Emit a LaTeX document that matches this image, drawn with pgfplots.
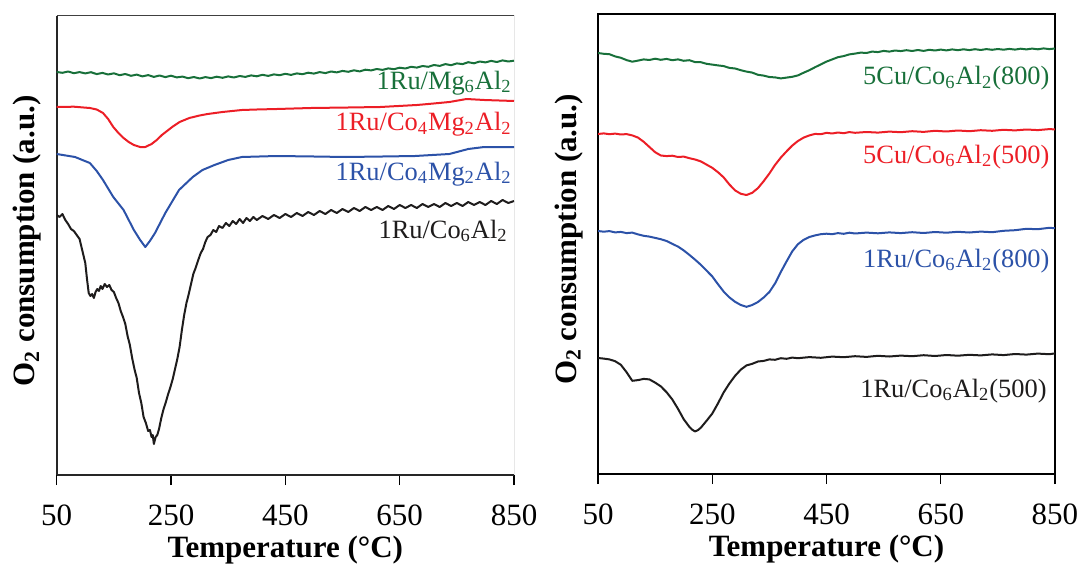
\documentclass[border=0pt]{standalone}
\usepackage{fontspec}
\setmainfont{Liberation Serif}
\usepackage{pgfplots}
\pgfplotsset{compat=1.18}
\definecolor{cgreen}{RGB}{24,112,58}
\definecolor{cred}{RGB}{236,30,38}
\definecolor{cblue}{RGB}{44,82,168}
\definecolor{cblack}{RGB}{30,28,28}
\newcommand{\tf}{\fontsize{15.5}{18}\selectfont}
\newcommand{\lf}{\fontsize{13.2}{15}\selectfont}
\pgfplotsset{
  common/.style={
    scale only axis,
    anchor=south west,
    xmin=50, xmax=850, ymin=0,
    xtick={50,250,450,650,850},
    ytick=\empty,
    tick align=outside,
    major tick length=5pt,
    xtick pos=left,
    tick style={black, line width=0.6pt},
    /pgf/number format/assume math mode=true,
    xticklabel style={font=\tf, anchor=base, yshift=-20pt},
    xlabel={\textbf{Temperature (°C)}},
    ylabel={\textbf{O\textsubscript{2} consumption (a.u.)}},
    xlabel style={font=\tf, at={(axis description cs:0.5,0)}, anchor=base, yshift=-41pt},
    ylabel style={font=\tf, at={(axis description cs:-0.048,0.51)}, anchor=base},
    every axis plot/.append style={line width=1pt, line join=round},
  }
}
\begin{document}
\begin{tikzpicture}
\path[use as bounding box] (0,0) rectangle (540.5pt,281.5pt);
% ---------------- left panel ----------------
\begin{axis}[common, at={(28.35pt,44pt)}, width=228.65pt, height=229.5pt, ymax=459,
  axis lines*=left, axis line style={line width=1pt, black!85}]
\addplot[cgreen] coordinates {
(50,403.0)(60,402.2)(70,403.5)(80,401.8)(90,402.9)(100,401.6)(110,402.8)(120,400.9)(130,402.1)(140,400.5)
(150,401.7)(160,399.8)(170,401.0)(180,399.2)(190,400.4)(200,398.6)(210,399.9)(220,398.1)(230,399.5)(240,397.9)
(250,399.3)(260,397.6)(270,398.4)(280,396.8)(290,398.0)(300,396.5)(310,397.9)(320,396.9)(330,398.3)(340,397.2)
(350,398.6)(360,397.5)(370,399.0)(380,398.1)(390,399.6)(400,398.7)(410,400.2)(420,399.1)(430,400.6)(440,399.8)
(450,401.2)(460,400.1)(470,401.6)(480,400.8)(490,402.3)(500,401.4)(510,402.9)(520,401.9)(530,403.5)(540,402.6)
(550,404.1)(560,403.2)(570,404.7)(580,403.6)(590,405.3)(600,404.6)(610,406.0)(620,405.1)(630,406.6)(640,405.8)
(650,407.3)(660,406.5)(670,408.2)(680,407.4)(690,409.0)(700,408.2)(710,410.0)(720,409.1)(730,410.9)(740,409.8)
(750,411.6)(760,410.9)(770,412.8)(780,411.7)(790,413.5)(800,412.6)(810,414.1)(820,413.0)(830,414.6)(840,413.5)
(850,414.3)};
\addplot[cred] coordinates {
(50,368)(80,368.3)(108,367)(120,365.5)(131,362)(140,356)(149,348)(158,342)(167,337)(176,333)(185,330)(196,328)
(205,328)(216,331)(225,335)(234,340)(243,344)(252,348)(265,353)(282,357)(300,359.5)(314,361)(340,363)(374,365)
(400,365.5)(435,366)(495,367)(560,367.5)(616,368)(680,370)(700,371)(737,373)(767,376)(798,375)(850,374)};
\addplot[cblue] coordinates {
(50,321)(82,318)(108,312)(120,304)(131,295)(149,278)(167,265)(185,245)(196,235)(205,228)(213,234)(222,242)
(240,262)(264,285)(288,298)(305,305)(326,310)(350,315)(374,318)(435,319)(500,318.5)(556,318)(620,318.5)(677,319)
(737,321)(770,326)(798,328)(850,328)};
\addplot[cblack] coordinates {
(50,260)(55,258)(60,261)(65,255)(70,251)(75,246)(80,244)(85,240)(90,236)(95,224)(100,212)(103,196)(106,182)
(109,179)(112,181)(115,177)(118,183)(121,186)(124,184)(127,189)(130,186)(134,191)(138,188)(142,190)(146,185)
(150,183)(154,177)(158,172)(162,164)(166,158)(170,151)(174,139)(178,130)(182,117)(186,106)(190,97)(194,82)
(198,72)(202,58)(206,52)(210,44)(213,45)(216,38)(218,40)(220,31)(223,38)(226,40)(229,46)(233,57)(237,66)
(241,73)(245,81)(249,88)(253,96)(257,106)(261,116)(265,128)(269,145)(273,160)(277,172)(281,181)(285,191)
(289,201)(293,207)(297,214)(302,222)(306,226)(310,233)(314,238)(319,240)(324,245)(329,243)(334,249)(340,247)
(346,252)(352,249)(358,254)(364,251)(370,256)(376,252)(382,257)(388,254)(394,258)(400,255)(410,259)(420,256)
(430,260)(440,257)(450,261)(460,258)(470,262)(480,259)(490,263)(500,260)(510,264)(520,261)(530,265)(540,262)
(550,266)(560,263)(570,267)(580,264)(590,268)(600,265)(610,268)(620,265)(630,269)(640,266)(650,270)(660,267)
(670,270)(680,267)(690,271)(700,268)(710,271)(720,268)(730,272)(740,269)(750,272)(760,269)(770,273)(780,270)
(790,273)(800,270)(810,274)(820,271)(830,275)(840,272)(850,274)};
\draw[line width=0.5pt, black!75] (rel axis cs:0,1) -- (rel axis cs:1,1) -- (rel axis cs:1,0);
\node[anchor=base east, text=cgreen, font=\lf, inner sep=0pt] at (axis cs:846.5,386) {1Ru/Mg\textsubscript{6}Al\textsubscript{2}};
\node[anchor=base east, text=cred, font=\lf, inner sep=0pt] at (axis cs:846.5,344) {1Ru/Co\textsubscript{4}Mg\textsubscript{2}Al\textsubscript{2}};
\node[anchor=base east, text=cblue, font=\lf, inner sep=0pt] at (axis cs:846.5,295) {1Ru/Co\textsubscript{4}Mg\textsubscript{2}Al\textsubscript{2}};
\node[anchor=base east, text=cblack, font=\lf, inner sep=0pt] at (axis cs:839.5,237) {1Ru/Co\textsubscript{6}Al\textsubscript{2}};
\end{axis}
% ---------------- right panel ----------------
\begin{axis}[common, at={(299pt,44.5pt)}, width=228.5pt, height=230pt, ymax=460,
  axis line style={line width=1.15pt, black}]
\addplot[cgreen] coordinates {
(50,421.0)(60,420.2)(70,419.8)(80,417.6)(90,416.2)(100,413.9)(110,412.3)(120,413.4)(130,414.6)(140,414.0)
(150,415.3)(160,414.2)(170,415.1)(180,413.8)(190,414.6)(200,413.2)(210,413.8)(220,411.9)(230,411.8)(240,410.2)
(250,409.4)(260,408.6)(270,407.9)(280,406.1)(290,405.5)(300,403.8)(310,402.4)(320,401.4)(330,399.2)(340,398.4)
(350,397.0)(360,396.6)(370,395.6)(380,396.4)(390,397.2)(400,398.6)(410,401.3)(420,403.8)(430,406.8)(440,409.6)
(450,412.4)(460,414.6)(470,416.8)(480,417.9)(490,419.6)(500,420.4)(510,421.4)(520,421.0)(530,422.4)(540,421.9)
(550,423.1)(560,422.4)(570,423.5)(580,422.9)(590,423.8)(600,423.0)(610,424.0)(620,423.1)(630,424.2)(640,423.5)
(650,424.4)(660,423.6)(670,424.6)(680,423.8)(690,424.7)(700,423.9)(710,424.8)(720,424.0)(730,424.9)(740,424.2)
(750,425.0)(760,424.3)(770,425.1)(780,424.4)(790,425.3)(800,424.6)(810,425.4)(820,424.7)(830,425.6)(840,424.9)
(850,425.5)};
\addplot[cred] coordinates {
(50,340.0)(60,340.6)(70,339.8)(80,340.4)(90,339.5)(100,339.9)(110,338.6)(120,336.4)(130,332.2)(140,327.0)
(150,321.8)(160,318.5)(170,317.9)(180,318.3)(190,317.0)(200,317.4)(210,315.8)(220,314.5)(230,312.6)(240,309.4)
(250,306.2)(260,301.8)(270,296.6)(280,289.5)(290,283.6)(300,280.2)(310,279.0)(320,281.2)(330,285.9)(340,292.8)
(350,300.5)(360,309.1)(370,316.4)(380,322.6)(390,328.4)(400,333.0)(410,336.4)(420,338.6)(430,340.1)(440,339.8)
(450,341.2)(460,340.5)(470,341.5)(480,340.8)(490,341.9)(500,341.2)(520,342.0)(540,341.4)(560,342.4)(580,341.8)
(600,342.8)(620,342.1)(640,343.2)(660,342.5)(680,343.5)(700,342.8)(720,343.8)(740,343.2)(760,344.2)(780,343.6)
(800,344.5)(820,343.9)(840,344.9)(850,344.6)};
\addplot[cblue] coordinates {
(50,243.0)(60,242.3)(70,242.9)(80,241.6)(90,242.1)(100,240.9)(110,241.4)(120,239.6)(130,238.2)(140,237.4)
(150,236.1)(160,234.8)(170,233.0)(180,230.2)(190,227.4)(200,223.6)(210,219.1)(220,214.3)(230,209.2)(240,203.4)
(250,197.6)(260,189.8)(270,182.4)(280,176.6)(290,172.2)(300,169.0)(310,167.2)(320,169.0)(330,172.0)(340,176.5)
(350,182.0)(360,190.6)(370,202.0)(380,212.5)(390,222.6)(400,229.8)(410,234.2)(420,237.0)(430,238.6)(440,239.8)
(450,240.3)(460,239.8)(470,240.9)(480,240.2)(490,241.3)(500,240.5)(520,241.4)(540,240.7)(560,241.6)(580,240.9)
(600,241.8)(620,241.0)(640,242.0)(660,241.3)(680,242.2)(700,241.5)(720,242.4)(740,241.8)(760,243.2)(780,243.8)
(800,245.2)(820,244.8)(840,246.2)(850,245.8)};
\addplot[cblack] coordinates {
(50,116.0)(60,115.4)(70,114.6)(80,112.8)(90,109.2)(100,101.8)(110,93.2)(120,93.9)(130,95.1)(140,94.6)
(150,91.4)(160,87.6)(170,81.8)(180,74.6)(190,65.2)(200,54.8)(210,47.1)(215,44.2)(220,42.6)(225,43.9)
(230,46.3)(240,53.2)(250,60.4)(260,70.6)(270,81.6)(280,90.5)(290,98.2)(300,104.4)(310,108.6)(320,110.2)
(330,112.5)(340,113.1)(350,114.6)(360,114.2)(370,115.8)(380,115.2)(390,116.4)(400,115.8)(420,116.9)(440,116.2)
(460,117.4)(480,116.8)(500,117.8)(520,117.1)(540,118.2)(560,117.5)(580,118.4)(600,117.8)(620,118.8)(640,118.0)
(660,119.0)(680,118.3)(700,119.2)(720,118.6)(740,119.6)(760,118.9)(780,120.0)(800,119.4)(820,120.4)(840,119.8)
(850,120.6)};
\node[anchor=base east, text=cgreen, font=\lf, inner sep=0pt] at (axis cs:841,389) {5Cu/Co\textsubscript{6}Al\textsubscript{2}(800)};
\node[anchor=base east, text=cred, font=\lf, inner sep=0pt] at (axis cs:841,311) {5Cu/Co\textsubscript{6}Al\textsubscript{2}(500)};
\node[anchor=base east, text=cblue, font=\lf, inner sep=0pt] at (axis cs:841,207) {1Ru/Co\textsubscript{6}Al\textsubscript{2}(800)};
\node[anchor=base east, text=cblack, font=\lf, inner sep=0pt] at (axis cs:836,77) {1Ru/Co\textsubscript{6}Al\textsubscript{2}(500)};
\end{axis}
\end{tikzpicture}
\end{document}
